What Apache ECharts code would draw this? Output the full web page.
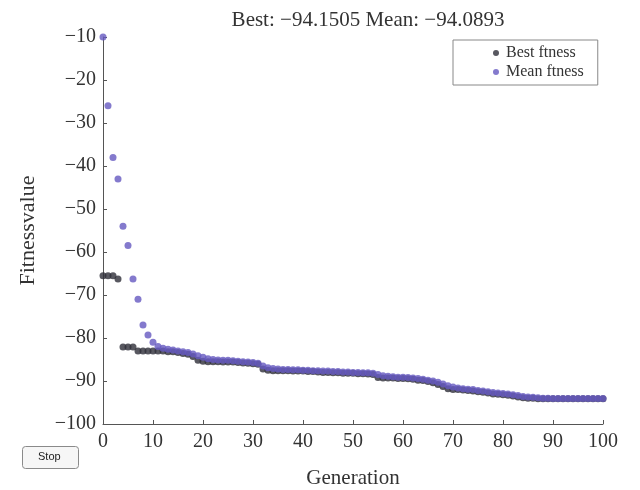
<!DOCTYPE html>
<html>
<head>
<meta charset="utf-8">
<script src="https://cdn.jsdelivr.net/npm/echarts@6/dist/echarts.min.js"></script>
<style>
html,body{margin:0;padding:0;background:#fff;}
#chart{width:640px;height:490px;}
</style>
</head>
<body>
<div id="chart"></div>
<script>
const titleText = 'Best: \u221294.1505 Mean: \u221294.0893';
const xTicks = [0,10,20,30,40,50,60,70,80,90,100];
const yTicks = [-100,-90,-80,-70,-60,-50,-40,-30,-20,-10];
const generations = [];
for (let g = 0; g <= 100; g++) generations.push(g);

const bestFitness = [
  -65.5,-65.5,-65.5,-66.3,-82.1,-82.1,-82.1,-83.0,-83.0,-83.0,
  -83.0,-83.0,-83.0,-83.2,-83.2,-83.4,-83.6,-83.8,-84.3,-85.2,
  -85.4,-85.5,-85.5,-85.5,-85.6,-85.6,-85.6,-85.7,-85.8,-85.9,
  -86.0,-86.1,-87.2,-87.5,-87.6,-87.6,-87.6,-87.6,-87.7,-87.7,
  -87.7,-87.8,-87.8,-87.9,-88.0,-88.0,-88.1,-88.1,-88.2,-88.2,
  -88.2,-88.3,-88.3,-88.4,-88.5,-89.2,-89.3,-89.3,-89.3,-89.4,
  -89.4,-89.5,-89.6,-89.8,-89.9,-90.1,-90.4,-90.8,-91.3,-91.8,
  -92.0,-92.0,-92.1,-92.2,-92.3,-92.5,-92.6,-92.8,-93.0,-93.1,
  -93.2,-93.3,-93.5,-93.7,-93.9,-94.0,-94.0,-94.1,-94.1,-94.15,
  -94.15,-94.15,-94.15,-94.15,-94.15,-94.15,-94.15,-94.15,-94.15,-94.15,
  -94.15
];
const meanFitness = [
  -10.0,-26.0,-38.0,-43.0,-54.0,-58.5,-66.3,-71.0,-77.0,-79.3,
  -81.0,-82.0,-82.4,-82.6,-82.8,-83.0,-83.2,-83.4,-83.7,-84.1,
  -84.5,-84.8,-85.0,-85.1,-85.2,-85.2,-85.3,-85.4,-85.5,-85.6,
  -85.7,-85.9,-86.5,-86.9,-87.1,-87.2,-87.3,-87.3,-87.4,-87.4,
  -87.5,-87.5,-87.6,-87.6,-87.7,-87.7,-87.8,-87.8,-87.9,-87.9,
  -88.0,-88.0,-88.1,-88.1,-88.2,-88.5,-88.8,-88.9,-89.0,-89.1,
  -89.1,-89.2,-89.3,-89.4,-89.6,-89.8,-90.0,-90.3,-90.7,-91.1,
  -91.4,-91.6,-91.8,-91.9,-92.0,-92.2,-92.3,-92.5,-92.7,-92.8,
  -92.9,-93.0,-93.2,-93.4,-93.6,-93.7,-93.8,-93.9,-94.0,-94.0,
  -94.05,-94.05,-94.06,-94.06,-94.07,-94.07,-94.08,-94.08,-94.09,-94.09,
  -94.09
];
const seriesNames = ['Best ftness','Mean ftness'];

const serif = '"Liberation Serif", "DejaVu Serif", serif';
const axisColor = '#555';

const chart = echarts.init(document.getElementById('chart'), null, {renderer:'canvas'});
chart.setOption({
  backgroundColor:'#fff',
  animation:false,
  title:{
    text:titleText, left:363, textAlign:'center', top:5,
    textStyle:{fontFamily:serif, fontSize:21, fontWeight:'normal', color:'#333'}
  },
  legend:{
    data:seriesNames, orient:'vertical', left:453, top:40,
    padding:[5,14,5,40], itemGap:3, itemWidth:10, itemHeight:6,
    borderColor:'#888', borderWidth:1, backgroundColor:'#fff',
    icon:'circle',
    textStyle:{fontFamily:serif, fontSize:16, color:'#333'}
  },
  grid:{left:103, right:37, top:37, bottom:66, containLabel:false, outerBoundsMode:'none'},
  xAxis:{
    type:'value', min:0, max:100, interval:10,
    name:'Generation', nameLocation:'middle', nameGap:44,
    nameTextStyle:{fontFamily:serif, fontSize:21, color:'#333'},
    axisLine:{show:true, lineStyle:{color:axisColor}},
    axisTick:{show:true, inside:true, length:4, lineStyle:{color:axisColor}},
    axisLabel:{fontFamily:serif, fontSize:20, color:'#333', margin:8},
    splitLine:{show:false}
  },
  yAxis:{
    type:'value', min:-100, max:-10, interval:10,
    name:'Fitnessvalue', nameLocation:'middle', nameGap:64, nameRotate:90,
    nameTextStyle:{fontFamily:serif, fontSize:22, color:'#333'},
    axisLine:{show:true, lineStyle:{color:axisColor}},
    axisTick:{show:true, inside:true, length:4, lineStyle:{color:axisColor}},
    axisLabel:{fontFamily:serif, fontSize:20, color:'#333', margin:7,
      formatter:function(v){return String(v).replace('-', '\u2212');}},
    splitLine:{show:false}
  },
  series:[
    {name:seriesNames[0], type:'scatter', symbol:'circle', symbolSize:7,
     itemStyle:{color:'#2e2e38'},
     data:generations.map((g,i)=>[g,bestFitness[i]])},
    {name:seriesNames[1], type:'scatter', symbol:'circle', symbolSize:7,
     itemStyle:{color:'#6559c0'},
     data:generations.map((g,i)=>[g,meanFitness[i]])}
  ],
  graphic:[
    {type:'rect', left:22, top:446, shape:{width:56, height:22, r:3},
     style:{fill:'#f6f6f6', stroke:'#8a8a8a', lineWidth:1}},
    {type:'text', left:38, top:451,
     style:{text:'Stop', fontFamily:'"Liberation Sans", Arial, sans-serif', fontSize:11, fill:'#222'}}
  ]
});
</script>
</body>
</html>
